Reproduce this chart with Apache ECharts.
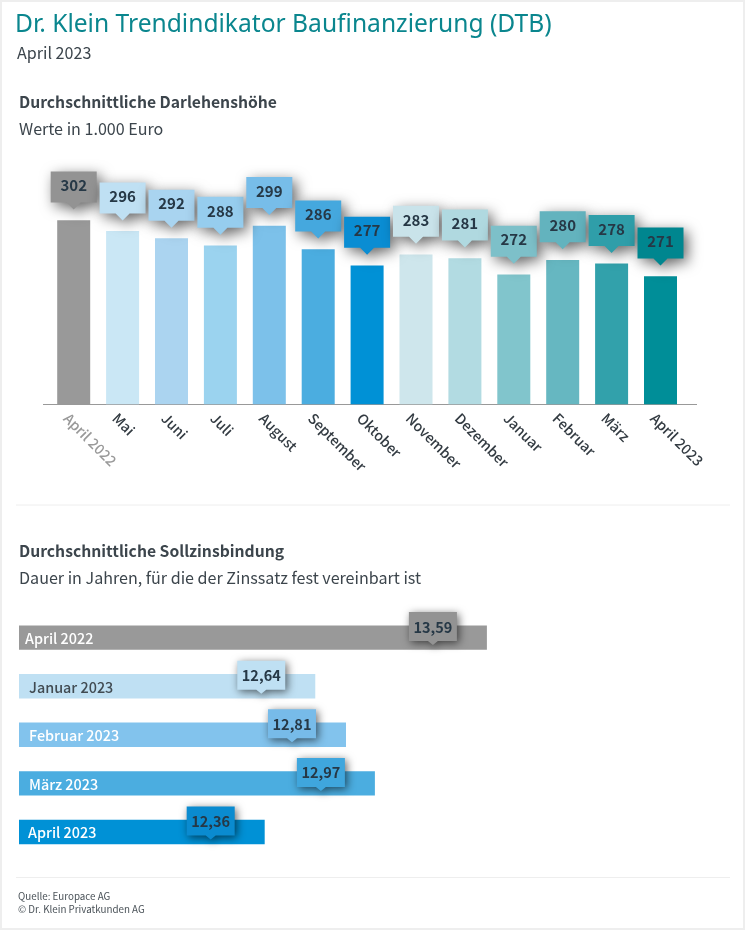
<!DOCTYPE html>
<html><head><meta charset="utf-8">
<style>html,body{margin:0;padding:0;background:#fff}#c{width:746px;height:930px}</style>
<script src="https://cdn.jsdelivr.net/npm/echarts@6/dist/echarts.min.js"></script>
</head><body><div id="c"></div>
<script>
const months = ['April 2022','Mai','Juni','Juli','August','September','Oktober','November','Dezember','Januar','Februar','März','April 2023'];
const loanValues = [302,296,292,288,299,286,277,283,281,272,280,278,271];
const loanColors = ['#999999','#cae7f5','#abd4f0','#9bd3ef','#7cc1ea','#4bade0','#0091d6','#cee6ec','#b2dbe2','#81c5cc','#66b7c1','#32a1ab','#008e98'];
const loanBoxColors = ['#939393','#bfe0f3','#a9d4f0','#96cdee','#77bde9','#45a8de','#0a8dd3','#c9e3ea','#b0d9e0','#7dc0c9','#63b3be','#2f9ea9','#00868f'];
const terms = ['April 2022','Januar 2023','Februar 2023','März 2023','April 2023'];
const termValues = [13.59,12.64,12.81,12.97,12.36];
const termColors = ['#999999','#bfe0f3','#82c3ed','#4bade0','#0091d6'];
const termBoxColors = ['#939393','#bfe0f3','#77bbe9','#3fa6dd','#0a8bd0'];
const termTextColors = ['#ffffff','#414b52','#ffffff','#ffffff','#ffffff'];
const SANS = '"Noto Sans CJK SC","Noto Sans",sans-serif';
const DARK = '#3c454c', LABEL = '#263846';

function callout(cx, tipY, w, h, tip, tipW, color, text, fontSize, textDy, blur, off){
  const l = cx - w/2, r = cx + w/2, b = tipY - tip, t = b - h;
  return {type:'group', children:[
    {type:'polygon', shape:{points:[[l,t],[r,t],[r,b],[cx+tipW,b],[cx,tipY],[cx-tipW,b],[l,b]]},
     style:{fill:color, shadowBlur:blur, shadowColor:'rgba(0,0,0,0.6)', shadowOffsetX:off, shadowOffsetY:off}},
    {type:'text', style:{x:cx, y:t+h/2+textDy, text:text, align:'center', verticalAlign:'middle',
      fill:LABEL, font:'bold '+fontSize+'px '+SANS}}
  ]};
}
function txt(text,left,top,size,color,weight,family){
  return {text:text,left:left,top:top,padding:0,textStyle:{fontSize:size,color:color,fontWeight:weight||'normal',fontFamily:family||SANS}};
}
const chart = echarts.init(document.getElementById('c'),null,{width:746,height:930});
chart.setOption({
  animation:false,
  backgroundColor:'#fff',
  title:[
    txt('Dr. Klein Trendindikator Baufinanzierung (DTB)',15,12,24.6,'#0a868e','normal','"Noto Sans",sans-serif'),
    txt('April 2023',17,44.5,16.1,DARK),
    txt('Durchschnittliche Darlehenshöhe',19,94,15.7,DARK,'bold'),
    txt('Werte in 1.000 Euro',19,121,16.1,DARK),
    txt('Durchschnittliche Sollzinsbindung',19,543,15.7,DARK,'bold'),
    txt('Dauer in Jahren, für die der Zinssatz fest vereinbart ist',19,570,16.1,DARK),
    txt('Quelle: Europace AG',18,891,9.8,'#4a5258'),
    txt('© Dr. Klein Privatkunden AG',18,904,9.8,'#4a5258')
  ],
  graphic:[
    {type:'rect',shape:{x:1,y:1,width:743,height:928},style:{fill:'none',stroke:'#eeeeee',lineWidth:2},silent:true},
    {type:'line',shape:{x1:43,y1:404.5,x2:697,y2:404.5},style:{stroke:'#999999',lineWidth:1}},
    {type:'line',shape:{x1:16,y1:505,x2:730,y2:505},style:{stroke:'#eeeeee',lineWidth:1}},
    {type:'line',shape:{x1:16,y1:877.5,x2:730,y2:877.5},style:{stroke:'#eeeeee',lineWidth:1}}
  ],
  grid:[
    {left:49.25,width:635.7,top:220.3,height:184},
    {left:19,width:467.9,top:613.3,height:243}
  ],
  xAxis:[
    {type:'category',gridIndex:0,data:months,axisLine:{show:false},axisTick:{show:false},
     axisLabel:{interval:0,rotate:-45,align:'left',verticalAlign:'top',margin:4,fontSize:14.2,fontWeight:500,fontFamily:SANS,lineHeight:21,
       color:(v,i)=>i===0?'#999999':'#333b42'}},
    {type:'value',gridIndex:1,min:11,max:13.59,show:false}
  ],
  yAxis:[
    {type:'value',gridIndex:0,min:200,max:302,show:false},
    {type:'category',gridIndex:1,data:terms,inverse:true,show:false}
  ],
  series:[
    {type:'bar',xAxisIndex:0,yAxisIndex:0,barWidth:33,
     data:loanValues.map((v,i)=>({value:v,itemStyle:{color:loanColors[i]}}))},
    {type:'custom',xAxisIndex:0,yAxisIndex:0,z:5,clip:false,
     data:loanValues.map((v,i)=>[i,v]),encode:{x:0,y:1},
     renderItem:(p,api)=>{const i=api.value(0),c=api.coord([i,api.value(1)]);
       return callout(c[0],c[1]-10.7,46,31,7,7,loanBoxColors[i],String(loanValues[i]),15,-1.5,14,4);}},
    {type:'bar',xAxisIndex:1,yAxisIndex:1,barWidth:24.4,
     data:termValues.map((v,i)=>({value:v,itemStyle:{color:termColors[i]},
       label:{show:true,position:'insideLeft',distance:i===0?6:i===4?9:10,offset:[0,1],formatter:terms[i],
         color:termTextColors[i],fontSize:14.4,fontWeight:500,fontFamily:SANS}}))},
    {type:'custom',xAxisIndex:1,yAxisIndex:1,z:5,clip:false,
     data:termValues.map((v,i)=>[v,i]),encode:{x:0,y:1},
     renderItem:(p,api)=>{const i=api.value(1),c=api.coord([api.value(0),i]);
       return callout(c[0]-54,c[1]+7.5,48,29,4,5,termBoxColors[i],termValues[i].toFixed(2).replace('.',','),14.5,0.5,9,2);}}
  ]
});
</script></body></html>
